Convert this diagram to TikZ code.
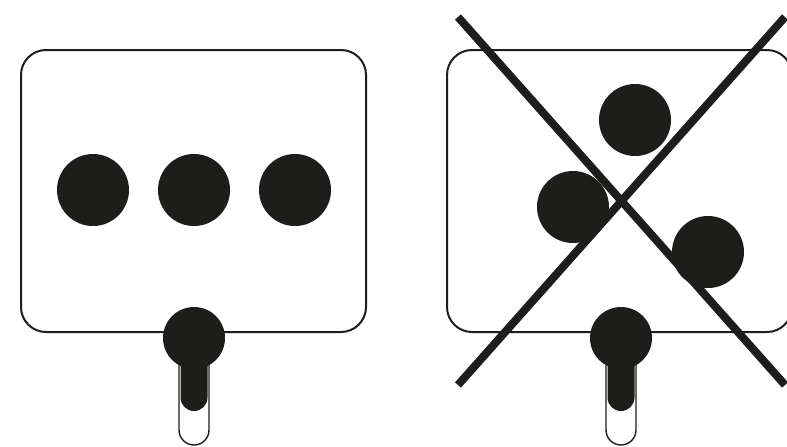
\documentclass[tikz,border=0pt]{standalone}
\definecolor{ink}{HTML}{1D1D1B}
\begin{document}
\begin{tikzpicture}[x=1pt,y=-1pt,
  boxline/.style={draw=ink,line width=2pt,rounded corners=25pt},
  dot/.style={fill=ink},
  slot/.style={draw=ink,fill=white,line width=1.4pt},
  crossline/.style={draw=ink,line width=8pt}]
\useasboundingbox (0,0) rectangle (787,447);
\begin{scope}
\clip (0,0) rectangle (787,447);
% left panel
\draw[boxline] (21,50) rectangle (366,332);
\fill[dot] (93,190) circle (36);
\fill[dot] (194,190) circle (36);
\fill[dot] (295,190) circle (36);
\draw[slot] (179,340) -- (179,430) arc[start angle=180,end angle=0,radius=15] -- (209,340);
\fill[ink] (180.5,340) -- (180.5,397.5) arc[start angle=180,end angle=0,radius=13.5] -- (207.5,340) -- cycle;
\fill[dot] (194,338) circle (31);
% right panel
\draw[boxline] (447,50) rectangle (792,332);
\fill[dot] (635,120) circle (36);
\fill[dot] (573,207) circle (36);
\fill[dot] (708,252) circle (36);
\draw[slot] (606,340) -- (606,430) arc[start angle=180,end angle=0,radius=15] -- (636,340);
\fill[ink] (607.5,340) -- (607.5,397.5) arc[start angle=180,end angle=0,radius=13.5] -- (634.5,340) -- cycle;
\fill[dot] (621,338) circle (31);
\draw[crossline] (458,17) -- (785,385);
\draw[crossline] (458,385) -- (785,17);
\end{scope}
\end{tikzpicture}
\end{document}
